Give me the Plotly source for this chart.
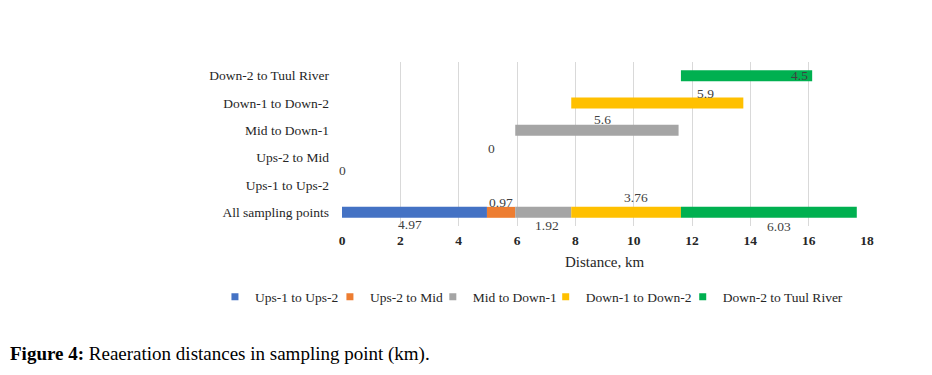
import plotly.graph_objects as go
import numpy as np

categories = ["All sampling points", "Ups-1 to Ups-2", "Ups-2 to Mid",
              "Mid to Down-1", "Down-1 to Down-2", "Down-2 to Tuul River"]
series_names = ["Ups-1 to Ups-2", "Ups-2 to Mid", "Mid to Down-1",
                "Down-1 to Down-2", "Down-2 to Tuul River"]
all_points = [4.97, 0.97, 1.92, 3.76, 6.03]
segment_values = [0, 0, 5.6, 5.9, 4.5]
x_ticks = [0, 2, 4, 6, 8, 10, 12, 14, 16, 18]

colors = ["#4472C4", "#ED7D31", "#A5A5A5", "#FFC000", "#00B050"]
legend_ids = ["legend", "legend2", "legend3", "legend4", "legend5"]
legend_x = [-0.242, -0.023, 0.173, 0.388, 0.649]
offsets = list(np.concatenate([[0], np.cumsum(all_points)[:-1]]))

fig = go.Figure()
for i, name in enumerate(series_names):
    fig.add_trace(go.Bar(
        y=[categories[0], categories[i + 1]],
        x=[all_points[i], segment_values[i]],
        base=[offsets[i], offsets[i]],
        orientation="h", name=name, showlegend=False,
        marker=dict(color=colors[i], line=dict(width=0)),
        width=0.4, hoverinfo="x+y",
    ))
# legend keys (small squares like the original)
for i, name in enumerate(series_names):
    fig.add_trace(go.Scatter(
        x=[None], y=[None], mode="markers", name=name, legend=legend_ids[i],
        marker=dict(symbol="square", size=7, color=colors[i]), showlegend=True,
    ))

font_lab = dict(family="Liberation Serif", size=13.5, color="#404040")
# label styling: (xshift px, yshift px)
all_shift = [(-4, -12), (0, 10), (4, -13), (10, 15), (10, -14)]
annotations = []
for i in range(5):
    xs, ys = all_shift[i]
    annotations.append(dict(x=offsets[i] + all_points[i] / 2, y=categories[0],
                            text=f"{all_points[i]:g}", showarrow=False, font=font_lab,
                            xshift=xs, yshift=ys))
seg_shift = [(0, 15), (5, 9), (6, 11), (48, 10), (0, 0)]
for i in range(5):
    xs, ys = seg_shift[i]
    if i == 4:
        annotations.append(dict(x=offsets[i] + segment_values[i], y=categories[i + 1],
                                text=f"{segment_values[i]:g}", showarrow=False, font=font_lab,
                                xanchor="right", xshift=-2))
    else:
        annotations.append(dict(x=offsets[i] + segment_values[i] / 2, y=categories[i + 1],
                                text=f"{segment_values[i]:g}", showarrow=False, font=font_lab,
                                xshift=xs, yshift=ys))

annotations.append(dict(x=0.5, y=-0.2195, xref="paper", yref="paper", text="Distance, km",
                        xanchor="center", yanchor="middle", showarrow=False,
                        font=dict(family="Liberation Serif", size=15, color="#262626")))
annotations.append(dict(x=-0.636, y=-0.78, xref="paper", yref="paper", xanchor="left",
                        yanchor="middle",
                        text="<b>Figure 4:</b> Reaeration distances in sampling point (km).",
                        showarrow=False, font=dict(family="Liberation Serif", size=19, color="#000000")))

leg_font = dict(family="Liberation Serif", size=13.5, color="#262626")
legends = {}
for i, lid in enumerate(legend_ids):
    legends[lid] = dict(orientation="h", x=legend_x[i], xanchor="left", y=-0.433,
                        yanchor="middle", font=leg_font, itemwidth=30,
                        bgcolor="rgba(0,0,0,0)", borderwidth=0)

fig.update_layout(
    width=924, height=367,
    margin=dict(l=334, r=65, t=54, b=149),
    paper_bgcolor="white", plot_bgcolor="white",
    barmode="overlay", bargap=0.6,
    showlegend=True,
    xaxis=dict(range=[0, 18], tickvals=x_ticks, ticktext=[f"<b>{t}</b>" for t in x_ticks],
               showgrid=True, gridcolor="#D9D9D9", gridwidth=1, zeroline=False,
               showline=False, ticks="", ticklabelstandoff=4,
               tickfont=dict(family="Liberation Serif", size=13.5, color="#262626")),
    yaxis=dict(categoryorder="array", categoryarray=categories, range=[-0.5, 5.5],
               showgrid=False, zeroline=False, showline=False, ticks="", ticklabelstandoff=12,
               tickfont=dict(family="Liberation Serif", size=13.5, color="#262626")),
    annotations=annotations,
    **legends,
)

fig.write_html("out.html")
